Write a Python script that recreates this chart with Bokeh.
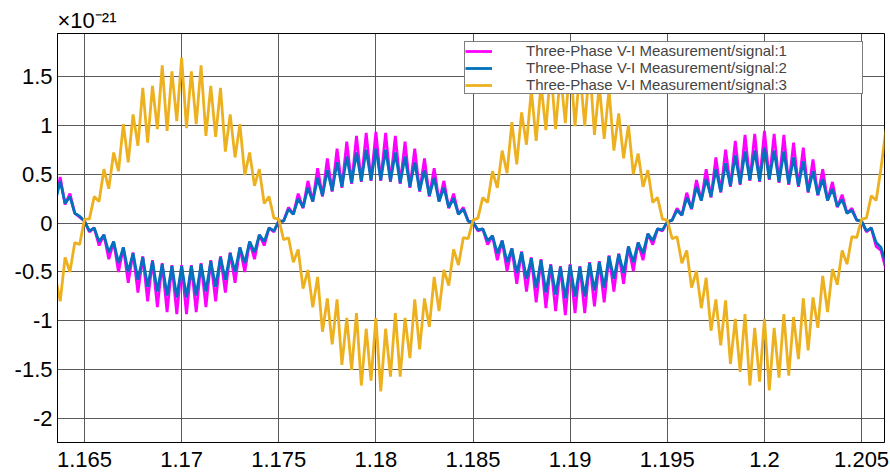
from bokeh.plotting import figure
from bokeh.models import Range1d, FixedTicker, Legend, LegendItem, Title
from bokeh.embed import file_html
from bokeh.resources import INLINE

# ---- data (values in units of 1e-21), sampled every 0.25 ms ----
T_START = 1.1635
T_STEP = 0.00025

SIGNAL_1 = [
    0.24, 0.47, 0.19, 0.30, 0.10, 0.06,
    0.02, -0.09, -0.05, -0.23, -0.12, -0.37, -0.19, -0.50, -0.25, -0.61,
    -0.30, -0.71, -0.34, -0.80, -0.38, -0.86, -0.41, -0.91, -0.43, -0.93,
    -0.43, -0.93, -0.43, -0.91, -0.41, -0.86, -0.38, -0.80, -0.34, -0.71,
    -0.30, -0.61, -0.25, -0.50, -0.19, -0.37, -0.12, -0.23, -0.05, -0.09,
    0.02, 0.02, 0.16, 0.09, 0.30, 0.15, 0.43, 0.22, 0.56, 0.27,
    0.66, 0.32, 0.76, 0.36, 0.83, 0.40, 0.89, 0.42, 0.92, 0.43,
    0.93, 0.43, 0.92, 0.42, 0.89, 0.40, 0.83, 0.36, 0.76, 0.32,
    0.66, 0.27, 0.56, 0.22, 0.43, 0.15, 0.30, 0.09, 0.16, 0.02,
    0.01, -0.08, -0.06, -0.22, -0.13, -0.38, -0.18, -0.49, -0.26, -0.62,
    -0.29, -0.70, -0.35, -0.81, -0.37, -0.87, -0.42, -0.90, -0.44, -0.94,
    -0.42, -0.92, -0.44, -0.92, -0.40, -0.85, -0.39, -0.81, -0.33, -0.70,
    -0.31, -0.62, -0.24, -0.49, -0.20, -0.38, -0.11, -0.22, -0.06, -0.08,
    0.01, 0.03, 0.15, 0.08, 0.31, 0.14, 0.44, 0.23, 0.55, 0.26,
    0.67, 0.31, 0.75, 0.37, 0.84, 0.39, 0.90, 0.43, 0.91, 0.42,
    0.94, 0.44, 0.91, 0.41, 0.90, 0.39, 0.82, 0.37, 0.77, 0.31,
    0.65, 0.28, 0.55, 0.23, 0.42, 0.16, 0.29, 0.10, 0.15, 0.03,
    0.02, -0.09, -0.05, -0.24, -0.28, -0.47, -0.33,
]

SIGNAL_2 = [
    0.22, 0.43, 0.20, 0.27, 0.10, 0.07,
    0.02, -0.08, -0.05, -0.19, -0.12, -0.30, -0.19, -0.41, -0.25, -0.50,
    -0.31, -0.58, -0.35, -0.65, -0.39, -0.70, -0.42, -0.74, -0.44, -0.76,
    -0.44, -0.76, -0.44, -0.74, -0.42, -0.70, -0.39, -0.65, -0.35, -0.58,
    -0.31, -0.50, -0.25, -0.41, -0.19, -0.30, -0.12, -0.19, -0.05, -0.08,
    0.02, 0.02, 0.14, 0.09, 0.25, 0.16, 0.36, 0.22, 0.46, 0.28,
    0.54, 0.33, 0.62, 0.37, 0.68, 0.41, 0.72, 0.43, 0.75, 0.44,
    0.76, 0.44, 0.75, 0.43, 0.72, 0.41, 0.68, 0.37, 0.62, 0.33,
    0.54, 0.28, 0.46, 0.22, 0.36, 0.16, 0.25, 0.09, 0.14, 0.02,
    0.01, -0.07, -0.06, -0.18, -0.13, -0.31, -0.18, -0.40, -0.26, -0.51,
    -0.30, -0.57, -0.36, -0.66, -0.38, -0.71, -0.43, -0.73, -0.45, -0.77,
    -0.43, -0.75, -0.45, -0.75, -0.41, -0.69, -0.40, -0.66, -0.34, -0.57,
    -0.32, -0.51, -0.24, -0.40, -0.20, -0.31, -0.11, -0.18, -0.06, -0.07,
    0.01, 0.03, 0.13, 0.08, 0.26, 0.15, 0.37, 0.23, 0.45, 0.27,
    0.55, 0.32, 0.61, 0.38, 0.69, 0.40, 0.73, 0.44, 0.74, 0.43,
    0.77, 0.45, 0.74, 0.42, 0.73, 0.40, 0.67, 0.38, 0.63, 0.32,
    0.53, 0.29, 0.45, 0.23, 0.35, 0.17, 0.24, 0.10, 0.13, 0.03,
    0.02, -0.08, -0.05, -0.20, -0.25, -0.42, -0.30,
]

SIGNAL_3 = [
    -0.55, -0.80, -0.35, -0.50, -0.20, -0.22,
    0.04, 0.04, 0.27, 0.22, 0.55, 0.35, 0.72, 0.53, 1.01, 0.62,
    1.11, 0.79, 1.38, 0.82, 1.40, 0.96, 1.61, 0.94, 1.55, 1.04,
    1.69, 0.97, 1.55, 1.01, 1.61, 0.89, 1.40, 0.88, 1.38, 0.73,
    1.11, 0.67, 1.01, 0.49, 0.72, 0.38, 0.55, 0.20, 0.27, 0.05,
    0.04, -0.17, -0.15, -0.40, -0.27, -0.67, -0.48, -0.86, -0.55, -1.11,
    -0.77, -1.24, -0.78, -1.45, -0.97, -1.50, -0.92, -1.66, -1.08, -1.61,
    -0.97, -1.72, -1.08, -1.57, -0.92, -1.57, -0.97, -1.38, -0.78, -1.29,
    -0.77, -1.06, -0.55, -0.90, -0.48, -0.64, -0.27, -0.43, -0.15, -0.16,
    0.03, 0.05, 0.26, 0.21, 0.53, 0.36, 0.74, 0.51, 1.03, 0.60,
    1.13, 0.80, 1.36, 0.84, 1.42, 0.95, 1.59, 0.96, 1.53, 1.02,
    1.67, 0.99, 1.56, 0.99, 1.62, 0.90, 1.41, 0.86, 1.36, 0.74,
    1.12, 0.66, 1.00, 0.50, 0.71, 0.37, 0.54, 0.21, 0.26, 0.04,
    0.03, -0.16, -0.14, -0.41, -0.28, -0.66, -0.49, -0.87, -0.56, -1.10,
    -0.78, -1.25, -0.79, -1.44, -0.98, -1.52, -0.93, -1.66, -1.07, -1.62,
    -0.98, -1.71, -1.07, -1.58, -0.93, -1.56, -0.96, -1.39, -0.77, -1.30,
    -0.76, -1.07, -0.54, -0.91, -0.47, -0.63, -0.28, -0.42, -0.14, -0.15,
    0.04, 0.05, 0.28, 0.23, 0.56, 0.95, 1.02,
]

SERIES_NAMES = [
    "Three-Phase V-I Measurement/signal:1",
    "Three-Phase V-I Measurement/signal:2",
    "Three-Phase V-I Measurement/signal:3",
]

Y_SCALE_TEXT = "×10⁻²¹"

X_TICKS = [1.165, 1.17, 1.175, 1.18, 1.185, 1.19, 1.195, 1.2, 1.205]
X_TICK_LABELS = ["1.165", "1.17", "1.175", "1.18", "1.185", "1.19", "1.195", "1.2", "1.205"]
Y_TICKS = [-2, -1.5, -1, -0.5, 0, 0.5, 1, 1.5]
Y_TICK_LABELS = ["-2", "-1.5", "-1", "-0.5", "0", "0.5", "1", "1.5"]

COLORS = ["#FF00FF", "#0072BD", "#EDB120"]
FONT = "Liberation Sans"

times = [T_START + i * T_STEP for i in range(len(SIGNAL_3))]

p = figure(frame_width=827, frame_height=409, output_backend="svg", toolbar_location=None,
           title=None,
           x_range=Range1d(1.16361, 1.20618), y_range=Range1d(-2.242, 1.936),
           min_border_left=57, min_border_right=6, min_border_top=33,
           min_border_bottom=31, background_fill_color="white",
           border_fill_color="white")
p.outline_line_color = "black"
p.outline_line_width = 1

renderers = []
for ys, col in zip([SIGNAL_1, SIGNAL_2, SIGNAL_3], COLORS):
    r = p.line(times, ys, line_color=col, line_width=2.8)
    renderers.append(r)

for ax, ticks, labels in [(p.xaxis[0], X_TICKS, X_TICK_LABELS), (p.yaxis[0], Y_TICKS, Y_TICK_LABELS)]:
    ax.ticker = FixedTicker(ticks=ticks)
    ax.major_label_overrides = {t: s for t, s in zip(ticks, labels)}
    ax.major_label_text_font = FONT
    ax.major_label_text_font_size = "22px"
    ax.major_label_text_color = "black"
    ax.axis_line_color = "black"
    ax.major_tick_out = 0
    ax.major_tick_in = 0
    ax.minor_tick_out = 0
    ax.minor_tick_in = 0
p.xaxis.major_label_standoff = 9
p.yaxis.major_label_standoff = 5

p.xgrid.ticker = FixedTicker(ticks=X_TICKS)
p.ygrid.ticker = FixedTicker(ticks=Y_TICKS)
for g in (p.xgrid[0], p.ygrid[0]):
    g.grid_line_color = "#484848"
    g.grid_line_width = 1
    g.grid_line_alpha = 0.9

legend = Legend(
    items=[LegendItem(label=n, renderers=[r]) for n, r in zip(SERIES_NAMES, renderers)],
    location=(407, 348),
    label_text_font=FONT, label_text_font_size="15px",
    label_height=14, glyph_height=14, glyph_width=27, label_standoff=34,
    label_width=336, padding=0, spacing=0, margin=0,
    border_line_color="black", border_line_width=1,
    background_fill_color="white", background_fill_alpha=1,
)
p.add_layout(legend)

p.add_layout(Title(text=Y_SCALE_TEXT, align="left", offset=0, standoff=1,
                   text_font=FONT, text_font_size="22px", text_font_style="normal",
                   text_color="black"), "above")

open("out.html", "w").write(file_html(p, INLINE))
